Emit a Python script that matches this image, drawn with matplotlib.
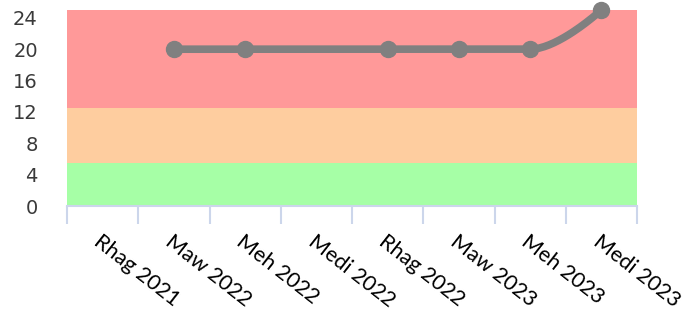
import numpy as np
import matplotlib
matplotlib.use("Agg")
from matplotlib import pyplot as plt

# categories on the x axis (Welsh month abbreviations)
categories = ["Rhag 2021", "Maw 2022", "Meh 2022", "Medi 2022",
              "Rhag 2022", "Maw 2023", "Meh 2023", "Medi 2023"]
# None = no value for that quarter (line connects across the gap)
values = [None, 20, 20, None, 20, 20, 20, 25]

# background bands (low, high, colour)
band_green = (0, 5.5)
band_orange = (5.5, 12.5)
band_red = (12.5, 25)

y_ticks = [0, 4, 8, 12, 16, 20, 24]


def spline_path(xs, ys, smoothing=1.5, steps=40):
    # highcharts-like spline through the points
    denom = smoothing + 1
    n = len(xs)
    right = [None] * n
    left = [None] * n
    for i in range(n):
        if i == 0 or i == n - 1:
            left[i] = (xs[i], ys[i])
            right[i] = (xs[i], ys[i])
            continue
        lx = (smoothing * xs[i] + xs[i - 1]) / denom
        ly = (smoothing * ys[i] + ys[i - 1]) / denom
        rx = (smoothing * xs[i] + xs[i + 1]) / denom
        ry = (smoothing * ys[i] + ys[i + 1]) / denom
        if rx != lx:
            corr = (ry - ly) * (rx - xs[i]) / (rx - lx) + ys[i] - ry
            ly += corr
            ry += corr
        lo, hi = min(ys[i - 1], ys[i]), max(ys[i - 1], ys[i])
        if ly < lo:
            ly = lo
            ry = 2 * ys[i] - ly
        elif ly > hi:
            ly = hi
            ry = 2 * ys[i] - ly
        lo2, hi2 = min(ys[i + 1], ys[i]), max(ys[i + 1], ys[i])
        if ry < lo2:
            ry = lo2
            ly = 2 * ys[i] - ry
        elif ry > hi2:
            ry = hi2
            ly = 2 * ys[i] - ry
        left[i] = (lx, ly)
        right[i] = (rx, ry)
    px, py = [], []
    t = np.linspace(0, 1, steps)
    for i in range(n - 1):
        p0 = np.array([xs[i], ys[i]])
        p1 = np.array(right[i])
        p2 = np.array(left[i + 1])
        p3 = np.array([xs[i + 1], ys[i + 1]])
        seg = ((1 - t) ** 3)[:, None] * p0 + (3 * (1 - t) ** 2 * t)[:, None] * p1 \
            + (3 * (1 - t) * t ** 2)[:, None] * p2 + (t ** 3)[:, None] * p3
        px.extend(seg[:, 0])
        py.extend(seg[:, 1])
    return px, py


fig = plt.figure(figsize=(6.94, 3.14), dpi=100)
ax = fig.add_axes([67 / 694, 1 - 206 / 314, 570 / 694, 196 / 314])

ax.axhspan(*band_green, color="#a6ffa6", zorder=0, lw=0)
ax.axhspan(*band_orange, color="#fecd9f", zorder=0, lw=0)
ax.axhspan(*band_red, color="#ff9999", zorder=0, lw=0)

xs = [i for i, v in enumerate(values) if v is not None]
ys = [v for v in values if v is not None]
sx, sy = spline_path(xs, ys)
ax.plot(sx, sy, color="#808080", lw=5.5, solid_capstyle="round", zorder=3, clip_on=False)
ax.plot(xs, ys, "o", color="#808080", ms=11.5, zorder=4, clip_on=False)

ax.set_xlim(-0.5, len(categories) - 0.5)
ax.set_ylim(0, 25)

for s in ["top", "right", "left"]:
    ax.spines[s].set_visible(False)
ax.spines["bottom"].set_color("#ccd6eb")
ax.spines["bottom"].set_linewidth(1.5)

ax.set_yticks(y_ticks)
ax.tick_params(axis="y", length=0, pad=21, labelsize=14, labelcolor="#3a3a3a")
for lab in ax.get_yticklabels():
    lab.set_horizontalalignment("right")

ax.set_xticks(np.arange(-0.5, len(categories), 1.0))
ax.set_xticklabels([])
ax.tick_params(axis="x", which="major", length=13, width=1.5, color="#ccd6eb")
ax.set_xticks(np.arange(len(categories)), minor=True)
ax.set_xticklabels(categories, minor=True, rotation=-38, ha="left", va="top",
                   rotation_mode="anchor", fontsize=15.5, family=["Lato", "DejaVu Sans"])
ax.tick_params(axis="x", which="minor", length=0, pad=18)
for lab in ax.get_xticklabels(minor=True):
    lab.set_x(lab.get_position()[0])

fig.savefig("out.png", dpi=100)
